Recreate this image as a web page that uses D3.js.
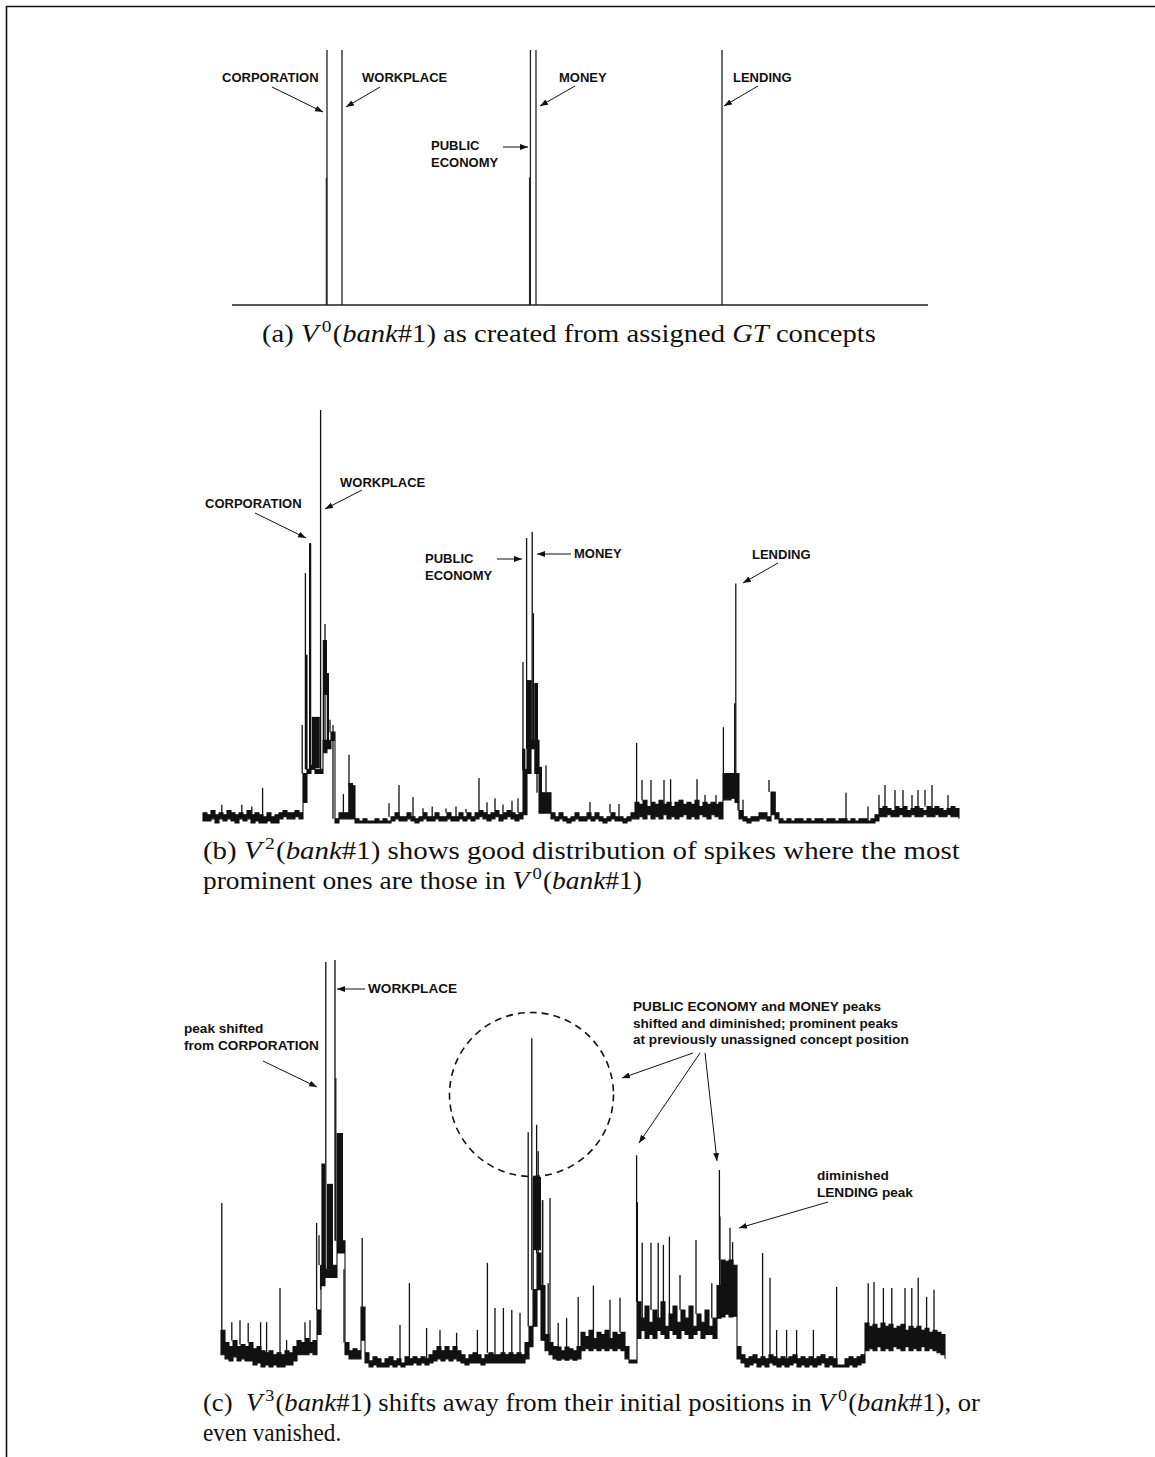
<!DOCTYPE html>
<html>
<head>
<meta charset="utf-8">
<script src="https://cdn.jsdelivr.net/npm/d3@7"></script>
<style>
  body { margin: 0; background: #fff; }
  svg { display: block; }
  .lbl { font-family: "Liberation Sans", Arial, sans-serif; font-weight: bold; font-size: 13px; fill: #111; }
  .lbl.big { font-size: 13.6px; }
  .cap { font-family: "Liberation Serif", "Times New Roman", serif; font-size: 25px; fill: #111; }
</style>
</head>
<body>
<svg id="fig"></svg>
<script>
// ---- data: V0 (panel a), concept spikes
const aConcepts = ["CORPORATION", "WORKPLACE", "PUBLIC ECONOMY", "MONEY", "LENDING"]
const aPos = [23.75, 27.5, 74.6, 76, 122.5]
const aVal = [100, 100, 100, 100, 100]
const aSubPos = [23.6, 74.4]
const aSubVal = [50, 50]
const aLength = 174

// ---- data: V2 (panel b) -- noise band (upper / lower edge), spikes, dense stretches
const bHi = [
  2.5,2,3,2,2.5,2,3,2.5,2,2.5,2,3,2,2.5,2,1.5,2.5,1.5,2,2.5,3,2.5,2.5,3,2.5,
  12,13,14,13,13,20,20,22,
  1,2.5,2.5,2.5,9,
  1,0.5,1,0.5,0.5,1,0.5,1,0.5,
  1.5,2.5,1.5,1.5,2.5,1.5,1,1.5,2.5,1.5,1.5,2.5,1.5,1.5,2.5,1.5,1.5,2.5,1.5,2.5,1.5,
  2.5,3,2.5,2,2.5,3,2,2.5,3,2.5,2,2.5,
  13,18,20,20,7.3,7.3,7.3,2.5,
  1.5,2.5,1.5,1,1.5,2.5,1.5,1.5,2.5,1.5,2.5,1.5,1,1.5,2.5,1.5,1.5,1,1.5,2.5,
  5,4.5,5.5,4,5,4.5,5.5,4.5,5,4,5,5.5,4.5,5,4.5,5.5,4,5,4.5,5,4.5,5,
  12,12,12,12,3,
  1.5,1,1.5,1.5,2.5,2.5,1.5,7.5,2.5,
  1,0.5,1,0.5,1,1,0.5,1,0.5,1,1,0.5,1,1,0.5,1,1,0.5,1,0.5,1,1,0.5,1,2,
  3.5,4,3.5,3,4,3.5,4,3,3.5,4,3.5,3,4,3.5,4,3.5,3,3.5,4,3.5,3
]
const bLo = [
  0.5,0.5,1,0,1,0.5,1,0.5,0,1,0.5,1,0,0.5,0,0,0.5,0,0,1,1.5,1,1,1.5,1,
  5,12,13,12,12,17,18,20,
  0,1,1,1,1,
  0,0,0,0,0,0,0,0,0,
  0.5,1,0.5,0.5,1,0.5,0,0.5,1,0.5,0.5,1,0.5,0.5,1,0.5,0.5,1,0.5,1,0.5,
  1,1.5,1,0.5,1,1.5,0.5,1,1.5,1,0.5,1,
  2,12,18,12,2.4,2.4,2.4,1,
  0.5,1,0.5,0,0.5,1,0.5,0.5,1,0.5,1,0.5,0,0.5,1,0.5,0.5,0,0.5,1,
  1,1.5,1,2,1,1.5,1,2,1,1.5,1,1.5,2,1,1.5,1,2,1.5,1,2,1.5,1,
  5.6,5.6,6,5,1,
  0.5,0,0.5,0.5,1,1,0.5,2,1,
  0,0,0,0,0,0,0,0,0,0,0,0,0,0,0,0,0,0,0,0,0,0,0,0,0.5,
  1.5,1.5,2,1.5,1.5,2,1.5,1.5,2,1.5,1.5,2,1.5,1.5,2,1.5,1.5,2,1.5,1.5,1
]
const bSpikes = [
  [4.7,4.4],[9.7,4.4],[12.2,4],[14.9,8.5],
  [24.8,23.7],[25.6,60.5],[25.9,40.7],[26.7,67.7],[26.9,67.7],[29.4,100],[30.1,44.3],[30.5,48.2],[31.1,36.3],[31.75,25],[32.5,23.7],
  [35.1,7],[36.5,16.5],[46.5,4.8],[49,9.2],[52.5,6.3],[55,3.6],[57.3,4],[60.75,3.5],[63.25,4],[65.75,3.4],
  [69,10.9],[71,5],[73,6],[75,4.5],[77.25,5.4],[78.75,6],
  [80,39],[80.9,69],[82.3,70.5],[82.6,50.8],[83,33.9],[83.5,33.9],[85.75,14],
  [96.75,5.1],[101.75,4.6],[104,4.6],
  [108.4,19.4],[109.75,10.4],[112,10.4],[115.25,10.4],[116.9,10.6],[119.7,5.6],[123.5,10.6],[125.5,6.8],[128.25,6.8],
  [130.1,23.2],[133.2,58],[133.75,10.4],
  [135,5.6],[141.5,10.4],[143,7.5],[160.75,7.3],[166.25,4],
  [169,6.8],[170.5,9.2],[173,8],[175,8],[177.25,6.8],[178.75,8],[180.5,8],[182.25,9.2],[186.25,6.8]
]
// dense stretches inside the peaks: [from, to, low, high]
const bBlocks = [
  [25.75,26.1,13,40.7],[26.5,27,13,67.7],[27.2,29.2,13.3,25.7],[30.25,31,31,44.3],[31,31.5,19.6,36.3],
  [36.3,37.5,1,9.7],
  [79.8,80.6,12.8,18],[81,82.2,18,34.6],[82.9,83.75,12,33.9],[84,84.75,7.3,13.6],
  [132.75,133.1,12,29]
]

// ---- data: V3 (panel c)
const cHi = [
  9,
  6,5,6.5,5,5.5,5,6,4.5,5,4,3.5,4,3,3.5,3,4,3.5,5,6.5,6,7,6,6.5,
  14,25,24,24,25,31,31,6,
  4,4.5,4,14.7,3.5,
  1.5,2.5,2,1,2,2.5,1.5,2,1,2.5,2,2.5,2,2.5,2,3,4,5,4,5,4,5,4,3,2,3,3.5,3,2,3,3.5,3,3,3.5,3,3.5,3,3.5,3,
  6,10,19,28,20,8,6,5,
  4.9,4,4.9,4.5,4,5,
  8.5,7.5,9,7,8.5,8,9,7,8.5,8,8.5,5,1.7,1.7,
  16,12,15,11,14,12,16,10,13,15,11,14,12,15,10,13,11,14,10,12,20,
  26.3,26,26.3,25,5,
  3,2,2.5,3,2,2.5,2,3,2.5,2,2.5,2,2.5,3,2,2.5,2,2.5,2,2.5,3,2,2.5,2,0.5,0.5,2,2.5,2,2.5,3,
  10.8,10,10.5,9.5,10.8,10,10.5,9.5,10,10.5,9,10,9.5,10,9,9.5,8.5,9,8.5,8,6
]
const cLo = [
  3,
  2,1.5,2.5,1.5,2,1.5,1.5,0.5,1,0,0.5,0,0.5,0,0,0.5,0.5,1.5,3,3,3,3.5,3,
  8,20,22,22,22,28,28,3,
  2,2,2,6.6,1,
  0,0.5,0,0,0,0.5,0,0.5,0,0.5,0.5,1,0.5,1,0.5,1,1.5,2,1.5,2,1.5,2,1.5,1,0.5,1,1,1,0.5,1,1,1,1,1,1,1,1,1,1,
  2,5,10,19,6.6,4,3,2,
  1.7,2,1.7,2,1.7,2,
  4,4.5,4,4.5,4,4.5,4,4.5,4,4.5,4,2,1,1,
  7,9,7,8,7,9,8,7,9,8,7,9,8,7,8,9,7,8,8,7,12,
  12.3,13,12.3,12.5,2,
  1,0,0.5,1,0,0.5,0,1,0.5,0,0.5,0,0.5,1,0,0.5,0,0.5,0,0.5,1,0,0.5,0,0,0,0,0.5,0,0.5,1,
  4,4.5,4,5,4,4.5,4,5,4.5,4,5,4,4.5,4,5,4,4.5,4,3.5,3,2
]
const cSpikes = [
  [0.2,40.3],[2.7,11],[4.75,11.5],[6.8,10.8],[9.9,11],[11.4,11],[14.75,19.4],[16.4,6.6],[21,11],[22.25,11.5],
  [23.9,35.4],[24.5,32.4],[24.9,19],[26.2,99.5],[28.5,100],[28.7,71],[30.75,24],[35.3,31.7],
  [44.75,10.3],[47.1,20.6],[51.4,9.6],[54.75,9.1],[58.9,8.4],[64.1,9.1],[66.6,25.6],[68.5,14.5],[70.6,14.5],[72.7,14],[74.75,13.3],
  [76.8,57.7],[77.7,80.8],[78.9,59.5],[79.3,53],[81.8,20.6],[82.25,41.5],
  [84.3,10.8],[86.4,12],[89.3,17.2],[93.1,20],[97.25,16.5],[99.75,17],
  [103.9,52],[104.1,40.5],[105.3,30.5],[107.5,30.5],[109.3,30.5],[110.6,30],[112.1,32],[114.75,22.6],[118.75,31.2],[122.7,20.6],
  [124.6,48.4],[127.25,34.2],[127.9,30.7],
  [135.4,28],[137.25,21.9],[138.9,9.1],[141.4,9.1],[143.9,9.1],[148.1,9.1],[153.9,19.7],
  [161.8,20.6],[163.25,20.9],[165.6,19.4],[167.7,19.4],[171,19.4],[172.7,19.4],[174.3,21.9],[176.4,17.2],[178.25,19]
]
const cBlocks = [
  [25.1,26,24.6,50],[26.5,28,24,45],[28.9,30.5,31,57.5],
  [77.9,78.2,19,46.7],[78,80,28.7,46.7],[80.2,80.6,6.6,41],
  [124.5,124.9,20,37]
]

const W = 1155, H = 1457

const svg = d3.select("#fig").attr("width", W).attr("height", H)

svg.append("defs").append("marker")
    .attr("id", "ah")
    .attr("viewBox", "0 0 8 6")
    .attr("refX", 8).attr("refY", 3)
    .attr("markerWidth", 8).attr("markerHeight", 6)
    .attr("markerUnits", "userSpaceOnUse")
    .attr("orient", "auto")
  .append("path")
    .attr("d", "M0,0L8,3L0,6Z")
    .attr("fill", "#111")

// page frame (top and left rules)
svg.append("line").attr("x1", 6).attr("x2", W).attr("y1", 6.5).attr("y2", 6.5)
    .attr("stroke", "#111").attr("stroke-width", 1.6)
svg.append("line").attr("x1", 6.5).attr("x2", 6.5).attr("y1", 6).attr("y2", H)
    .attr("stroke", "#111").attr("stroke-width", 1.6)

// ---- panel a
{
    const x = d3.scaleLinear().domain([0, aLength]).range([232, 928])
    const y = d3.scaleLinear().domain([0, 100]).range([305, 50])
    const g = svg.append("g")

    g.append("path")
        .datum([0, aLength])
        .attr("d", d3.line().x(d => x(d)).y(() => y(0)))
        .attr("stroke", "#222").attr("stroke-width", 1.4).attr("fill", "none")

    g.selectAll("line.sub")
        .data(aSubPos)
        .join("line")
        .attr("x1", d => x(d)).attr("x2", d => x(d))
        .attr("y1", y(0)).attr("y2", (d, i) => y(aSubVal[i]))
        .attr("stroke", "#222").attr("stroke-width", 1.3)

    g.selectAll("line.spk")
        .data(aPos)
        .join("line")
        .attr("x1", d => x(d)).attr("x2", d => x(d))
        .attr("y1", y(0)).attr("y2", (d, i) => y(aVal[i]))
        .attr("stroke", "#222").attr("stroke-width", 1.3)
}

function drawPanel(hi, lo, spikes, blocks, xr, yr)
{
    const x = d3.scaleLinear().domain([0, hi.length - 1]).range(xr)
    const y = d3.scaleLinear().domain([0, 100]).range(yr)
    const g = svg.append("g")

    // noise band
    g.append("path")
        .datum(hi)
        .attr("d", d3.area()
            .x((d, i) => x(i))
            .y0((d, i) => y(lo[i]))
            .y1(d => y(d))
            .curve(d3.curveStepAfter))
        .attr("fill", "#111")
        .attr("stroke", "#111")
        .attr("stroke-width", 1.1)
        .attr("stroke-linejoin", "miter")

    g.selectAll("rect")
        .data(blocks)
        .join("rect")
        .attr("x", d => x(d[0]))
        .attr("width", d => Math.max(1, x(d[1]) - x(d[0])))
        .attr("y", d => y(d[3]))
        .attr("height", d => y(d[2]) - y(d[3]))
        .attr("fill", "#111")

    g.selectAll("line")
        .data(spikes)
        .join("line")
        .attr("x1", d => x(d[0])).attr("x2", d => x(d[0]))
        .attr("y1", d => y(hi[Math.round(d[0])]))
        .attr("y2", d => y(d[1]))
        .attr("stroke", "#111")
        .attr("stroke-width", 1.3)
}

drawPanel(bHi, bLo, bSpikes, bBlocks, [203, 959], [823, 410])
drawPanel(cHi, cLo, cSpikes, cBlocks, [221, 945], [1367, 960])

// ---- annotations
const notes = [
    // panel a
    { lines: [aConcepts[0]], x: 222, y: 82, arrows: [[272, 87, 323, 112]] },
    { lines: [aConcepts[1]], x: 362, y: 82, arrows: [[380, 87, 346, 107]] },
    { lines: [aConcepts[3]], x: 559, y: 82, arrows: [[575, 86, 540, 106]] },
    { lines: ["PUBLIC", "ECONOMY"], x: 431, y: 150, arrows: [[503, 147, 528, 147]] },
    { lines: [aConcepts[4]], x: 733, y: 82, arrows: [[758, 86, 724, 106]] },
    // panel b
    { lines: ["CORPORATION"], x: 205, y: 508, arrows: [[255, 513, 306, 538]] },
    { lines: ["WORKPLACE"], x: 340, y: 487, arrows: [[362, 490, 325, 509]] },
    { lines: ["PUBLIC", "ECONOMY"], x: 425, y: 563, arrows: [[497, 559, 522, 559]] },
    { lines: ["MONEY"], x: 574, y: 558, arrows: [[571, 554, 537, 554]] },
    { lines: ["LENDING"], x: 752, y: 559, arrows: [[778, 563, 743, 583]] },
    // panel c
    { big: true, lines: ["WORKPLACE"], x: 368, y: 993, arrows: [[365, 989, 337, 989]] },
    { big: true, lines: ["peak shifted", "from CORPORATION"], x: 184, y: 1033, arrows: [[263, 1061, 317, 1087]] },
    { big: true, lines: ["PUBLIC ECONOMY and MONEY peaks", "shifted and diminished; prominent peaks",
              "at previously unassigned concept position"], x: 633, y: 1011,
      arrows: [[693, 1053, 622, 1078], [700, 1053, 639, 1143], [705, 1053, 717, 1161]] },
    { big: true, lines: ["diminished", "LENDING peak"], x: 817, y: 1180, arrows: [[828, 1202, 739, 1228]] }
]

notes.forEach(n =>
{
    const t = svg.append("text").attr("class", n.big ? "lbl big" : "lbl").attr("y", n.y)
    n.lines.forEach((s, k) =>
    {
        t.append("tspan").attr("x", n.x).attr("dy", k ? 16.5 : 0).text(s)
    })
    n.arrows.forEach(a =>
    {
        svg.append("line")
            .attr("x1", a[0]).attr("y1", a[1]).attr("x2", a[2]).attr("y2", a[3])
            .attr("stroke", "#111").attr("stroke-width", 1)
            .attr("marker-end", "url(#ah)")
    })
})

// dashed circle round the shifted PUBLIC ECONOMY / MONEY peaks
svg.append("circle")
    .attr("cx", 531.5).attr("cy", 1094.5).attr("r", 82)
    .attr("fill", "none").attr("stroke", "#111")
    .attr("stroke-width", 1.6).attr("stroke-dasharray", "7,5")

// ---- captions: [text, kind]  r = roman, i = italic, s = superscript
function caption(parts, x0, x1, yb)
{
    const t = svg.append("text").attr("class", "cap").attr("x", 0).attr("y", yb)
        .attr("xml:space", "preserve")
    let raised = false
    parts.forEach(([s, k]) =>
    {
        const ts = t.append("tspan").text(s)
        if (k === "i") ts.attr("font-style", "italic")
        if (k === "s") { ts.attr("font-size", "17px").attr("dy", -10).attr("dx", 3); raised = true; return }
        if (raised) { ts.attr("dy", 10).attr("dx", 1); raised = false }
    })
    const w = t.node().getComputedTextLength() + 4
    t.attr("transform", `translate(${x0},0) scale(${(x1 - x0) / w},1)`)
}

caption([["(a) ", "r"], ["V", "i"], ["0", "s"], ["(", "r"], ["bank", "i"], ["#1) as created from assigned ", "r"],
         ["GT", "i"], [" concepts", "r"]], 262, 876, 342)

caption([["(b) ", "r"], ["V", "i"], ["2", "s"], ["(", "r"], ["bank", "i"],
         ["#1) shows good distribution of spikes where the most", "r"]], 203, 960, 859)
caption([["prominent ones are those in ", "r"], ["V", "i"], ["0", "s"], ["(", "r"], ["bank", "i"], ["#1)", "r"]],
        203, 642, 889)

caption([["(c)  ", "r"], ["V", "i"], ["3", "s"], ["(", "r"], ["bank", "i"],
         ["#1) shifts away from their initial positions in ", "r"], ["V", "i"], ["0", "s"], ["(", "r"],
         ["bank", "i"], ["#1), or", "r"]], 203, 976, 1411)
caption([["even vanished.", "r"]], 203, 345, 1441)
</script>
</body>
</html>
